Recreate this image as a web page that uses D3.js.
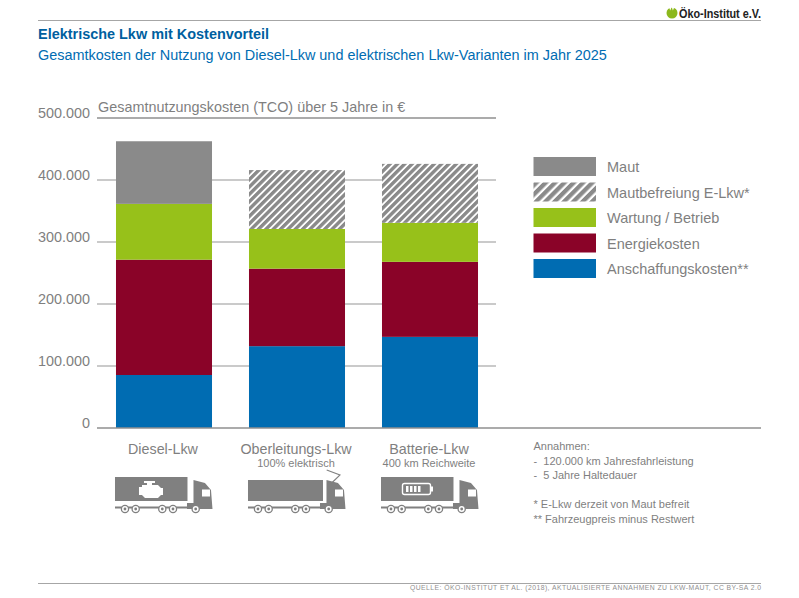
<!DOCTYPE html>
<html>
<meta charset="utf-8">
<title>Elektrische Lkw mit Kostenvorteil</title>
<style>
  body { margin: 0; background: #fff; }
  text { font-family: "Liberation Sans", Arial, sans-serif; }
  .grid { stroke: #b9b9b9; stroke-width: 1.5; }
  .tick-label { fill: #7f7f7f; font-size: 14.4px; }
  .legend-label { fill: #7f7f7f; font-size: 14.5px; }
  .cat { fill: #7f7f7f; font-size: 14.3px; }
  .sub { fill: #7f7f7f; font-size: 11px; }
  .note { fill: #7f7f7f; font-size: 11px; white-space: pre; }
</style>
<body>
<script src="https://d3js.org/d3.v7.min.js"></script>
<script>
var categories = ["Diesel-Lkw", "Oberleitungs-Lkw", "Batterie-Lkw"];
var subtitles = ["", "100% elektrisch", "400 km Reichweite"];
var icons = ["engine", "wire", "battery"];

var seriesNames = ["Anschaffungskosten**", "Energiekosten", "Wartung / Betrieb", "Mautbefreiung E-Lkw*", "Maut"];
var anschaffung = [85500, 132000, 147000];
var energie = [186000, 125000, 121000];
var wartung = [90000, 64000, 63000];
var befreiung = [0, 95000, 95000];
var maut = [101000, 0, 0];

var yTicks = [0, 100000, 200000, 300000, 400000, 500000];
var yLabels = ["0", "100.000", "200.000", "300.000", "400.000", "500.000"];
var notes = ["Annahmen:", "-  120.000 km Jahresfahrleistung", "-  5 Jahre Haltedauer", "", "* E-Lkw derzeit von Maut befreit", "** Fahrzeugpreis minus Restwert"];

var seriesValues = [anschaffung, energie, wartung, befreiung, maut];
var colors = ["#006cb2", "#8a0328", "#97c11a", "url(#hatch)", "#8a8a8a"];
var legendColors = ["#006cb2", "#8a0328", "#97c11a", "url(#hatchLegend)", "#8a8a8a"];

var svg = d3.select("body").append("svg")
    .attr("width", 799)
    .attr("height", 598)
    .style("display", "block");

var defs = svg.append("defs");
function addHatch(id, size) {
  var pattern = defs.append("pattern")
      .attr("id", id)
      .attr("width", size)
      .attr("height", size)
      .attr("patternUnits", "userSpaceOnUse")
      .attr("patternTransform", "rotate(45)");
  pattern.append("rect").attr("width", size).attr("height", size).attr("fill", "#ffffff");
  pattern.append("rect").attr("width", size * 0.65).attr("height", size).attr("fill", "#8a8a8a");
}
addHatch("hatch", 5.2);
addHatch("hatchLegend", 6.6);

var x = d3.scaleBand().domain(categories).range([97.5, 496.5]).paddingInner(0.278).paddingOuter(0.139);
var y = d3.scaleLinear().domain([0, 500000]).range([428, 118]);

// header
svg.append("line").attr("x1", 38).attr("x2", 761).attr("y1", 20.5).attr("y2", 20.5).attr("stroke", "#a6a6a6");
svg.append("text").attr("x", 38).attr("y", 39).attr("fill", "#005f9f")
    .style("font-size", "14.45px").style("font-weight", "bold").text("Elektrische Lkw mit Kostenvorteil");
svg.append("text").attr("x", 38).attr("y", 60).attr("fill", "#006cb2")
    .style("font-size", "14.43px").text("Gesamtkosten der Nutzung von Diesel-Lkw und elektrischen Lkw-Varianten im Jahr 2025");

// logo
svg.append("circle").attr("cx", 672).attr("cy", 13).attr("r", 5.5).attr("fill", "#8cb81c");
svg.append("path").attr("d", "M669 7 l1.2 3.5 l1.5 -3.5 l1.2 3.5 l1.5 -3.5 z").attr("fill", "#fff");
svg.append("text").attr("x", 679).attr("y", 18).attr("fill", "#222")
    .attr("textLength", 82).attr("lengthAdjust", "spacingAndGlyphs")
    .style("font-size", "13px").style("font-weight", "bold").text("Öko-Institut e.V.");

// grid
svg.selectAll(".grid").data(yTicks.slice(1)).enter().append("line")
    .attr("class", "grid")
    .attr("x1", 97).attr("x2", 496)
    .attr("y1", function(d) { return y(d); })
    .attr("y2", function(d) { return y(d); })
    .style("stroke", function(d) { return d === 500000 ? "#8f8f8f" : null; });

svg.selectAll(".tick-label").data(yTicks).enter().append("text")
    .attr("class", "tick-label")
    .attr("x", 90)
    .attr("y", function(d) { return y(d) - 0.5; })
    .attr("text-anchor", "end")
    .text(function(d, i) { return yLabels[i]; });

svg.append("text").attr("class", "tick-label").attr("x", 98).attr("y", 112).text("Gesamtnutzungskosten (TCO) über 5 Jahre in €");

// bars
var stackData = categories.map(function(c, i) {
  var row = { cat: c };
  seriesNames.forEach(function(s, j) { row[s] = seriesValues[j][i]; });
  return row;
});
var layers = d3.stack().keys(seriesNames)(stackData);

svg.selectAll(".layer").data(layers).enter().append("g")
    .attr("class", "layer")
    .attr("fill", function(d, i) { return colors[i]; })
  .selectAll("rect")
    .data(function(d) { return d; })
  .enter().append("rect")
    .attr("x", function(d) { return x(d.data.cat); })
    .attr("y", function(d) { return y(d[1]); })
    .attr("width", x.bandwidth())
    .attr("height", function(d) { return y(d[0]) - y(d[1]); });

svg.append("line").attr("x1", 97).attr("x2", 761).attr("y1", 428).attr("y2", 428).attr("stroke", "#8f8f8f").attr("stroke-width", 1.5);

// legend
var legendOrder = seriesNames.slice().reverse();
var legendY = d3.scalePoint().domain(legendOrder).range([157, 259]);
var legend = svg.selectAll(".legend").data(legendOrder).enter().append("g")
    .attr("class", "legend")
    .attr("transform", function(d) { return "translate(533.5," + legendY(d) + ")"; });
legend.append("rect").attr("width", 62.5).attr("height", 19)
    .attr("fill", function(d) { return legendColors[seriesNames.indexOf(d)]; });
legend.append("text").attr("class", "legend-label").attr("x", 73.5).attr("y", 15).text(function(d) { return d; });

// category labels
svg.selectAll(".cat").data(categories).enter().append("text")
    .attr("class", "cat")
    .attr("x", function(d) { return x(d) + x.bandwidth() / 2 - 1; })
    .attr("y", 454)
    .attr("text-anchor", "middle")
    .text(function(d) { return d; });
svg.selectAll(".sub").data(categories).enter().append("text")
    .attr("class", "sub")
    .attr("x", function(d) { return x(d) + x.bandwidth() / 2 - 1; })
    .attr("y", 467)
    .attr("text-anchor", "middle")
    .text(function(d, i) { return subtitles[i]; });

// truck icons
function drawTruck(g, kind) {
  var grey = "#808080";
  var boxTop = kind === "wire" ? 3 : 0;
  g.append("rect").attr("x", 0).attr("y", boxTop).attr("width", kind === "wire" ? 75 : 72.5).attr("height", 24 - boxTop).attr("fill", grey);
  g.append("path").attr("d", "M78.5 3 L90 6 L96 13 L97.5 32 L72 32 L72 26 L78.5 26 Z").attr("fill", grey);
  g.append("rect").attr("x", 87).attr("y", 12.5).attr("width", 8).attr("height", 7).attr("fill", "#fff");
  g.append("rect").attr("x", 0).attr("y", 29.5).attr("width", 97).attr("height", 2).attr("fill", grey);
  [10, 20.7, 47.3, 58, 80.7].forEach(function(cx) {
    g.append("circle").attr("cx", cx).attr("cy", 32).attr("r", 3.6).attr("fill", "#fff").attr("stroke", grey).attr("stroke-width", 1.3);
    g.append("circle").attr("cx", cx).attr("cy", 32).attr("r", 1.4).attr("fill", grey);
  });
  if (kind === "engine") {
    g.append("path").attr("d", "M24 10 h3 v-2 h5 v-2 h-3 v-2 h11 v2 h-3 v2 h6 l3 3 h2 v7 h-2 l-3 3 h-13 l-3 -3 h-3 z").attr("fill", "#fff");
  }
  if (kind === "battery") {
    g.append("rect").attr("x", 21.5).attr("y", 6.5).attr("width", 28).attr("height", 11).attr("rx", 2).attr("fill", "none").attr("stroke", "#fff").attr("stroke-width", 1.4);
    g.append("rect").attr("x", 50).attr("y", 9.5).attr("width", 2).attr("height", 5).attr("fill", "#fff");
    [25, 29, 33, 37].forEach(function(bx) {
      g.append("rect").attr("x", bx).attr("y", 9).attr("width", 2.5).attr("height", 6).attr("fill", "#fff");
    });
  }
  if (kind === "wire") {
    g.append("path").attr("d", "M78.7 -7 L92 -2 L83.7 6").attr("fill", "none").attr("stroke", grey).attr("stroke-width", 1.1);
  }
}
svg.selectAll(".truck").data(categories).enter().append("g")
    .attr("class", "truck")
    .attr("transform", function(d) { return "translate(" + (x(d) - 1) + ",477)"; })
    .each(function(d, i) { drawTruck(d3.select(this), icons[i]); });

// notes
svg.selectAll(".note").data(notes).enter().append("text")
    .attr("class", "note")
    .attr("x", 533.5)
    .attr("y", function(d, i) { return 450 + i * 14.6; })
    .text(function(d) { return d; });

// footer
svg.append("line").attr("x1", 38).attr("x2", 761).attr("y1", 583.5).attr("y2", 583.5).attr("stroke", "#a6a6a6");
svg.append("text").attr("x", 761).attr("y", 590).attr("text-anchor", "end").attr("fill", "#8f8f8f")
    .attr("textLength", 351).attr("lengthAdjust", "spacing")
    .style("font-size", "6.8px").text("QUELLE: ÖKO-INSTITUT ET AL. (2018), AKTUALISIERTE ANNAHMEN ZU LKW-MAUT, CC BY-SA 2.0");
</script>
</body>
</html>
